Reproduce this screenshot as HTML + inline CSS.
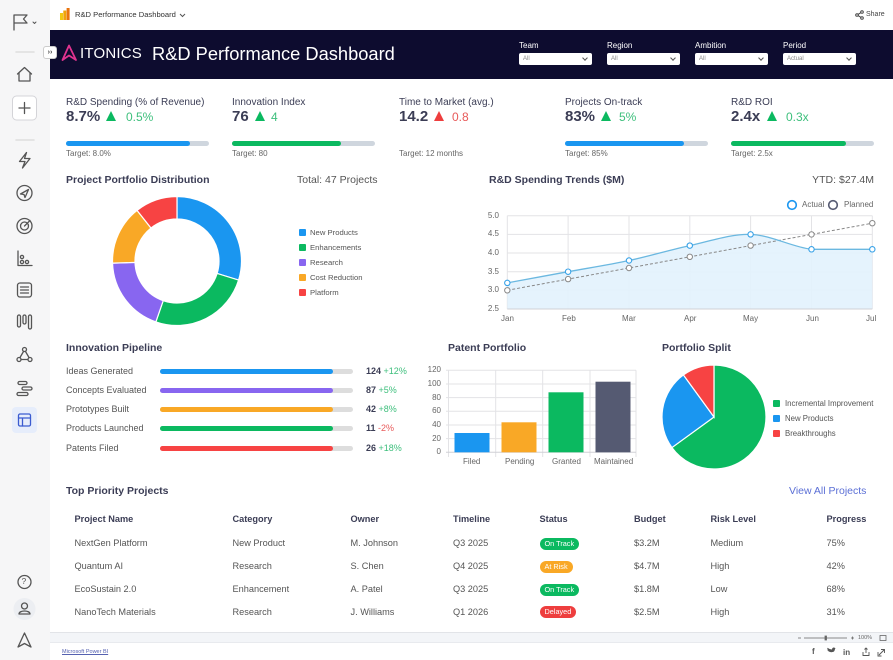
<!DOCTYPE html>
<html><head><meta charset="utf-8">
<style>
*{margin:0;padding:0;box-sizing:border-box}
html,body{width:893px;height:660px;overflow:hidden;background:#fff;font-family:"Liberation Sans",Arial,sans-serif;color:#3b3d55}
.t{position:absolute;white-space:nowrap;line-height:1}
.b{font-weight:bold}
.sel{position:absolute;width:73px;height:12px;background:#fff;border-radius:2px;font-size:6px;color:#888;padding:3px 0 0 4px}
.sel:after{content:"";position:absolute;right:5px;top:3px;width:3px;height:3px;border-right:1px solid #555;border-bottom:1px solid #555;transform:rotate(45deg)}
.kl{font-size:10px;color:#3b3d55}
.kv{font-size:15px;font-weight:bold;color:#3b3d55}
.up{position:absolute;width:0;height:0;border-left:5.5px solid transparent;border-right:5.5px solid transparent;border-bottom:10px solid #0bb960}
.upr{border-bottom-color:#ee3e3e}
.kd{font-size:12px;color:#3dbf7c}
.kdr{color:#e85a5a}
.track{position:absolute;height:4.5px;border-radius:3px;background:#cfd6de;width:143px;top:141px}
.fill{position:absolute;left:0;top:0;height:4.5px;border-radius:3px}
.tg{font-size:8px;color:#666}
.st{font-size:10.5px;font-weight:bold;color:#3b3d55}
.lg{font-size:7.7px;color:#555}
.sq{position:absolute;width:7px;height:7px;border-radius:1px}
.pl{font-size:9px;color:#555}
.pt{position:absolute;left:160px;width:193px;height:5px;border-radius:3px;background:#ddd}
.pf{position:absolute;left:0;top:0;height:5px;width:173px;border-radius:3px}
.pv{font-size:9px}
.th{font-size:9.2px;font-weight:bold;color:#3b3d55}
.td{font-size:9.2px;color:#555}
.badge{position:absolute;height:12px;border-radius:6px;color:#fff;font-size:7.3px;line-height:12px;padding:0 5px;white-space:nowrap}
.ax{font-size:8px;color:#666}
</style></head><body>

<!-- sidebar -->
<div style="position:absolute;left:0;top:0;width:50px;height:660px;background:#f6f6f7"></div>
<svg style="position:absolute;left:0;top:0" width="50" height="660" viewBox="0 0 50 660" fill="none" stroke="#555" stroke-width="1.3" stroke-linejoin="round" stroke-linecap="round">
  <path d="M14 30 V15 H27 L23.5 19 L27 23 H14"/>
  <path d="M33 22 L34.5 23.5 L36 22" stroke-width="1"/>
  <line x1="16" y1="52" x2="34" y2="52" stroke="#ddd" stroke-width="1.5"/>
  <path d="M17.5 74 L24.5 67.5 L31.5 74 M19 73 V81 H30 V73"/>
  <rect x="12.5" y="96" width="24" height="24" rx="4" fill="#fff" stroke="#d4d4d8" stroke-width="1"/>
  <path d="M24.5 102.5 V113.5 M19 108 H30"/>
  <line x1="16" y1="140" x2="34" y2="140" stroke="#ddd" stroke-width="1.5"/>
  <path d="M26.5 152.5 L19.5 161.5 H25 L22.5 168 L30 158.5 H24.5 Z"/>
  <circle cx="24.5" cy="193" r="7.5"/><path d="M20.5 194 L28.5 189.5 L25 197.5 L24 194.5 Z"/>
  <circle cx="24.5" cy="226" r="7.5"/><circle cx="24.5" cy="226" r="4"/><path d="M24.5 226 L30 220.5"/>
  <path d="M18 251 V265.5 H32"/><circle cx="22" cy="262" r="1.6"/><circle cx="27" cy="262" r="1.6"/><circle cx="22" cy="257" r="1.6"/>
  <rect x="17.5" y="283" width="14" height="14" rx="2.5"/><path d="M20.5 287 H28.5 M20.5 290 H28.5 M20.5 293 H28.5"/>
  <rect x="17.5" y="315" width="3" height="12" rx="1.5"/><rect x="23" y="315" width="3" height="9" rx="1.5"/><rect x="28.5" y="315" width="3" height="14" rx="1.5"/>
  <circle cx="24.5" cy="349.5" r="2"/><circle cx="19" cy="359.5" r="2"/><circle cx="30" cy="359.5" r="2"/><path d="M23.5 351.5 L20 357.5 M25.5 351.5 L29 357.5 M21 359.5 H28"/>
  <rect x="18" y="381.5" width="9" height="3" rx="1.5"/><rect x="22" y="387" width="10" height="3" rx="1.5"/><rect x="17" y="392.5" width="11" height="3" rx="1.5"/>
  <rect x="12" y="407" width="25" height="26" rx="4" fill="#e6edfb" stroke="none"/>
  <rect x="18.5" y="414" width="12" height="12" rx="1.5" stroke="#3b5bd0"/><path d="M18.5 418 H30.5 M22.5 418 V426" stroke="#3b5bd0"/>
  <circle cx="24.5" cy="582" r="6.5"/>
  <circle cx="24.5" cy="609" r="11" fill="#eceef2" stroke="none"/>
  <circle cx="24.5" cy="606" r="3"/><path d="M19 614 C19 610 30 610 30 614 Z"/>
  <path d="M24.5 633 L31 647 L24.5 643.5 L18 647 Z"/>
</svg>
<div class="t" style="left:21.5px;top:577px;font-size:8.5px;color:#555">?</div>

<!-- top bar -->
<svg style="position:absolute;left:60px;top:8px" width="10" height="13"><rect x="0" y="5" width="3" height="7" fill="#f2c811"/><rect x="3.3" y="2.5" width="3" height="9.5" fill="#f0a30a"/><rect x="6.6" y="0" width="3" height="12" fill="#e8730c"/></svg>
<div class="t" style="left:75px;top:11px;font-size:7.6px;color:#333">R&amp;D Performance Dashboard</div>
<svg style="position:absolute;left:179px;top:13px" width="7" height="5"><path d="M1 1 L3.5 3.5 L6 1" stroke="#555" fill="none" stroke-width="1"/></svg>
<svg style="position:absolute;left:855px;top:10px" width="9" height="10" fill="none" stroke="#444" stroke-width="1"><circle cx="7" cy="2" r="1.3"/><circle cx="2" cy="5" r="1.3"/><circle cx="7" cy="8" r="1.3"/><path d="M3 4.4 L6 2.6 M3 5.6 L6 7.4"/></svg>
<div class="t" style="left:866px;top:11px;font-size:7px;color:#444">Share</div>

<!-- dark header -->
<div style="position:absolute;left:50px;top:30px;width:843px;height:49px;background:#0d0c2f"></div>
<svg style="position:absolute;left:61px;top:44px" width="17" height="18"><path d="M8 1.5 L15 16 L8 11.5 L1.5 16 Z" fill="none" stroke="#e0338f" stroke-width="1.8" stroke-linejoin="round"/></svg>
<div class="t" style="left:80px;top:46px;font-size:15px;color:#fff;letter-spacing:0.2px">ITONICS</div>
<div class="t" style="left:152px;top:45px;font-size:18.3px;color:#fff">R&amp;D Performance Dashboard</div>
<div style="position:absolute;left:43px;top:46px;width:14px;height:13px;background:#fff;border:1px solid #ccc;border-radius:3px;font-size:7px;line-height:11px;text-align:center;color:#444;font-weight:bold">››</div>

<div class="t" style="left:519px;top:42px;font-size:8px;color:#fff">Team</div>
<div class="sel" style="left:519px;top:53px">All</div>
<div class="t" style="left:607px;top:42px;font-size:8px;color:#fff">Region</div>
<div class="sel" style="left:607px;top:53px">All</div>
<div class="t" style="left:695px;top:42px;font-size:8px;color:#fff">Ambition</div>
<div class="sel" style="left:695px;top:53px">All</div>
<div class="t" style="left:783px;top:42px;font-size:8px;color:#fff">Period</div>
<div class="sel" style="left:783px;top:53px">Actual</div>

<!-- KPIs -->
<div class="t kl" style="left:66px;top:98px">R&amp;D Spending (% of Revenue)</div>
<div class="t kv" style="left:66px;top:109px">8.7%</div>
<div class="up" style="left:106px;top:111px"></div>
<div class="t kd" style="left:126px;top:111px">0.5%</div>
<div class="track" style="left:66px"><div class="fill" style="width:124px;background:#1a96f0"></div></div>
<div class="t tg" style="left:66px;top:150px">Target: 8.0%</div>

<div class="t kl" style="left:232px;top:98px">Innovation Index</div>
<div class="t kv" style="left:232px;top:109px">76</div>
<div class="up" style="left:255px;top:111px"></div>
<div class="t kd" style="left:271px;top:111px">4</div>
<div class="track" style="left:232px"><div class="fill" style="width:109px;background:#0bb960"></div></div>
<div class="t tg" style="left:232px;top:150px">Target: 80</div>

<div class="t kl" style="left:399px;top:98px">Time to Market (avg.)</div>
<div class="t kv" style="left:399px;top:109px">14.2</div>
<div class="up upr" style="left:434px;top:111px"></div>
<div class="t kd kdr" style="left:452px;top:111px">0.8</div>
<div class="t tg" style="left:399px;top:150px">Target: 12 months</div>

<div class="t kl" style="left:565px;top:98px">Projects On-track</div>
<div class="t kv" style="left:565px;top:109px">83%</div>
<div class="up" style="left:601px;top:111px"></div>
<div class="t kd" style="left:619px;top:111px">5%</div>
<div class="track" style="left:565px"><div class="fill" style="width:119px;background:#1a96f0"></div></div>
<div class="t tg" style="left:565px;top:150px">Target: 85%</div>

<div class="t kl" style="left:731px;top:98px">R&amp;D ROI</div>
<div class="t kv" style="left:731px;top:109px">2.4x</div>
<div class="up" style="left:767px;top:111px"></div>
<div class="t kd" style="left:786px;top:111px">0.3x</div>
<div class="track" style="left:731px"><div class="fill" style="width:115px;background:#0bb960"></div></div>
<div class="t tg" style="left:731px;top:150px">Target: 2.5x</div>

<!-- Portfolio distribution -->
<div class="t st" style="left:66px;top:175px">Project Portfolio Distribution</div>
<div class="t" style="left:297px;top:175px;font-size:10.5px;color:#555">Total: 47 Projects</div>
<svg style="position:absolute;left:0;top:0" width="893" height="660" stroke="#fff" stroke-width="1.2">
  <path d="M177 196.5 A64.5 64.5 0 0 1 238.6 280.1 L217.11 273.44 A42 42 0 0 0 177 219 Z" fill="#1a96f0"/>
  <path d="M238.6 280.1 A64.5 64.5 0 0 1 155.84 321.93 L163.22 300.68 A42 42 0 0 0 217.11 273.44 Z" fill="#0bb960"/>
  <path d="M155.84 321.93 A64.5 64.5 0 0 1 112.54 263.15 L135.02 262.4 A42 42 0 0 0 163.22 300.68 Z" fill="#8866f0"/>
  <path d="M112.54 263.15 A64.5 64.5 0 0 1 137.03 210.38 L150.97 228.04 A42 42 0 0 0 135.02 262.4 Z" fill="#f9a826"/>
  <path d="M137.03 210.38 A64.5 64.5 0 0 1 177 196.5 L177 219 A42 42 0 0 0 150.97 228.04 Z" fill="#f74343"/>
</svg>
<div class="sq" style="left:299px;top:229px;background:#1a96f0"></div><div class="t lg" style="left:310px;top:229px">New Products</div>
<div class="sq" style="left:299px;top:244px;background:#0bb960"></div><div class="t lg" style="left:310px;top:244px">Enhancements</div>
<div class="sq" style="left:299px;top:259px;background:#8866f0"></div><div class="t lg" style="left:310px;top:259px">Research</div>
<div class="sq" style="left:299px;top:274px;background:#f9a826"></div><div class="t lg" style="left:310px;top:274px">Cost Reduction</div>
<div class="sq" style="left:299px;top:289px;background:#f74343"></div><div class="t lg" style="left:310px;top:289px">Platform</div>

<!-- Spending trends -->
<div class="t st" style="left:489px;top:175px">R&amp;D Spending Trends ($M)</div>
<div class="t" style="right:19px;top:175px;font-size:10.5px;color:#555">YTD: $27.4M</div>
<svg style="position:absolute;left:0;top:0" width="893" height="660">
  <g stroke="#e3e3e6" stroke-width="1">
    <line x1="507.3" y1="215.7" x2="872.3" y2="215.7"/>
    <line x1="507.3" y1="234.4" x2="872.3" y2="234.4"/>
    <line x1="507.3" y1="253" x2="872.3" y2="253"/>
    <line x1="507.3" y1="271.7" x2="872.3" y2="271.7"/>
    <line x1="507.3" y1="290.3" x2="872.3" y2="290.3"/>
    <line x1="507.3" y1="215.7" x2="507.3" y2="309"/>
    <line x1="568.1" y1="215.7" x2="568.1" y2="309"/>
    <line x1="629" y1="215.7" x2="629" y2="309"/>
    <line x1="689.8" y1="215.7" x2="689.8" y2="309"/>
    <line x1="750.6" y1="215.7" x2="750.6" y2="309"/>
    <line x1="811.5" y1="215.7" x2="811.5" y2="309"/>
    <line x1="872.3" y1="215.7" x2="872.3" y2="309"/>
  </g>
  <path d="M507.3 282.9 C517.4 281 547.8 275.4 568.1 271.7 C588.4 268 608.7 264.9 629 260.5 C649.3 256.2 669.5 250 689.8 245.6 C710.1 241.3 730.3 233.8 750.6 234.4 C770.9 235 791.2 246.8 811.5 249.3 C831.8 249.3 852 249.3 872.3 249.3 L872.3 309 L507.3 309 Z" fill="#e2f2fd" opacity="0.9"/>
  <line x1="507.3" y1="309" x2="872.3" y2="309" stroke="#d0d0d6" stroke-width="1"/>
  <polyline points="507.3,290.3 568.1,279.1 629,268 689.8,256.8 750.6,245.6 811.5,234.4 872.3,223.2" fill="none" stroke="#888" stroke-width="1" stroke-dasharray="3,2"/>
  <path d="M507.3 282.9 C517.4 281 547.8 275.4 568.1 271.7 C588.4 268 608.7 264.9 629 260.5 C649.3 256.2 669.5 250 689.8 245.6 C710.1 241.3 730.3 233.8 750.6 234.4 C770.9 235 791.2 246.8 811.5 249.3 C831.8 249.3 852 249.3 872.3 249.3" fill="none" stroke="#6bb8e0" stroke-width="1.3"/>
  <g fill="#fff" stroke="#888" stroke-width="1">
    <circle cx="507.3" cy="290.3" r="2.7"/><circle cx="568.1" cy="279.1" r="2.7"/><circle cx="629" cy="268" r="2.7"/><circle cx="689.8" cy="256.8" r="2.7"/><circle cx="750.6" cy="245.6" r="2.7"/><circle cx="811.5" cy="234.4" r="2.7"/><circle cx="872.3" cy="223.2" r="2.7"/>
  </g>
  <g fill="#fff" stroke="#3aa3e8" stroke-width="1.1">
    <circle cx="507.3" cy="282.9" r="2.7"/><circle cx="568.1" cy="271.7" r="2.7"/><circle cx="629" cy="260.5" r="2.7"/><circle cx="689.8" cy="245.6" r="2.7"/><circle cx="750.6" cy="234.4" r="2.7"/><circle cx="811.5" cy="249.3" r="2.7"/><circle cx="872.3" cy="249.3" r="2.7"/>
  </g>
  <circle cx="792" cy="205" r="4.3" fill="#fff" stroke="#1a96f0" stroke-width="1.6"/>
  <circle cx="833" cy="205" r="4.3" fill="#fff" stroke="#555a72" stroke-width="1.6"/>
</svg>
<div class="t" style="left:802px;top:201px;font-size:8px;color:#666">Actual</div>
<div class="t" style="left:844px;top:201px;font-size:8px;color:#666">Planned</div>
<div class="t ax" style="right:394px;top:211.7px">5.0</div>
<div class="t ax" style="right:394px;top:230.4px">4.5</div>
<div class="t ax" style="right:394px;top:249px">4.0</div>
<div class="t ax" style="right:394px;top:267.7px">3.5</div>
<div class="t ax" style="right:394px;top:286.3px">3.0</div>
<div class="t ax" style="right:394px;top:305px">2.5</div>
<div class="t ax" style="left:501px;top:315px">Jan</div>
<div class="t ax" style="left:562px;top:315px">Feb</div>
<div class="t ax" style="left:622px;top:315px">Mar</div>
<div class="t ax" style="left:684px;top:315px">Apr</div>
<div class="t ax" style="left:743px;top:315px">May</div>
<div class="t ax" style="left:806px;top:315px">Jun</div>
<div class="t ax" style="left:866px;top:315px">Jul</div>

<!-- Innovation pipeline -->
<div class="t st" style="left:66px;top:343px">Innovation Pipeline</div>
<div class="t pl" style="left:66px;top:366.5px">Ideas Generated</div>
<div class="pt" style="top:368.5px"><div class="pf" style="background:#1a96f0"></div></div>
<div class="t pv" style="left:366px;top:366.5px"><b>124</b> <span style="color:#3dbf7c">+12%</span></div>
<div class="t pl" style="left:66px;top:385.5px">Concepts Evaluated</div>
<div class="pt" style="top:387.5px"><div class="pf" style="background:#8866f0"></div></div>
<div class="t pv" style="left:366px;top:385.5px"><b>87</b> <span style="color:#3dbf7c">+5%</span></div>
<div class="t pl" style="left:66px;top:404.5px">Prototypes Built</div>
<div class="pt" style="top:406.5px"><div class="pf" style="background:#f9a826"></div></div>
<div class="t pv" style="left:366px;top:404.5px"><b>42</b> <span style="color:#3dbf7c">+8%</span></div>
<div class="t pl" style="left:66px;top:424px">Products Launched</div>
<div class="pt" style="top:426px"><div class="pf" style="background:#0bb960"></div></div>
<div class="t pv" style="left:366px;top:424px"><b>11</b> <span style="color:#e85a5a">-2%</span></div>
<div class="t pl" style="left:66px;top:443.5px">Patents Filed</div>
<div class="pt" style="top:445.5px"><div class="pf" style="background:#f74343"></div></div>
<div class="t pv" style="left:366px;top:443.5px"><b>26</b> <span style="color:#3dbf7c">+18%</span></div>

<!-- Patent portfolio -->
<div class="t st" style="left:448px;top:343px">Patent Portfolio</div>
<svg style="position:absolute;left:0;top:0" width="893" height="660">
  <g stroke="#e3e3e6" stroke-width="1">
    <line x1="446" y1="370.3" x2="636" y2="370.3"/>
    <line x1="446" y1="384" x2="636" y2="384"/>
    <line x1="446" y1="397.6" x2="636" y2="397.6"/>
    <line x1="446" y1="411.3" x2="636" y2="411.3"/>
    <line x1="446" y1="425" x2="636" y2="425"/>
    <line x1="446" y1="438.6" x2="636" y2="438.6"/>
    <line x1="448.5" y1="370.3" x2="448.5" y2="457"/>
    <line x1="495.7" y1="370.3" x2="495.7" y2="457"/>
    <line x1="542.7" y1="370.3" x2="542.7" y2="457"/>
    <line x1="590" y1="370.3" x2="590" y2="457"/>
    <line x1="636" y1="370.3" x2="636" y2="457"/>
  </g>
  <line x1="446" y1="452.3" x2="636" y2="452.3" stroke="#d0d0d6"/>
  <rect x="454.5" y="433" width="35" height="19.3" fill="#1a96f0"/>
  <rect x="501.5" y="422.3" width="35" height="30" fill="#f9a826"/>
  <rect x="548.5" y="392.3" width="35" height="60" fill="#0bb960"/>
  <rect x="595.5" y="381.7" width="35" height="70.6" fill="#555a72"/>
</svg>
<div class="t ax" style="right:452px;top:366.3px">120</div>
<div class="t ax" style="right:452px;top:380px">100</div>
<div class="t ax" style="right:452px;top:393.6px">80</div>
<div class="t ax" style="right:452px;top:407.3px">60</div>
<div class="t ax" style="right:452px;top:421px">40</div>
<div class="t ax" style="right:452px;top:434.6px">20</div>
<div class="t ax" style="right:452px;top:448.3px">0</div>
<div class="t ax" style="left:463px;top:458px">Filed</div>
<div class="t ax" style="left:505px;top:458px">Pending</div>
<div class="t ax" style="left:552px;top:458px">Granted</div>
<div class="t ax" style="left:594px;top:458px">Maintained</div>

<!-- Portfolio split -->
<div class="t st" style="left:662px;top:343px">Portfolio Split</div>
<svg style="position:absolute;left:0;top:0" width="893" height="660" stroke="#fff" stroke-width="1.2">
  <path d="M714 417 L714 365 A52 52 0 1 1 671.93 447.57 Z" fill="#0bb960"/>
  <path d="M714 417 L671.93 447.57 A52 52 0 0 1 683.43 374.93 Z" fill="#1a96f0"/>
  <path d="M714 417 L683.43 374.93 A52 52 0 0 1 714 365 Z" fill="#f74343"/>
</svg>
<div class="sq" style="left:773px;top:400px;background:#0bb960"></div><div class="t lg" style="left:785px;top:400px;font-size:7.8px">Incremental Improvement</div>
<div class="sq" style="left:773px;top:415px;background:#1a96f0"></div><div class="t lg" style="left:785px;top:415px;font-size:7.8px">New Products</div>
<div class="sq" style="left:773px;top:430px;background:#f74343"></div><div class="t lg" style="left:785px;top:430px;font-size:7.8px">Breakthroughs</div>

<!-- Table -->
<div class="t st" style="left:66px;top:486px">Top Priority Projects</div>
<div class="t" style="left:789px;top:486px;font-size:10.5px;color:#5b6fd6">View All Projects</div>

<div class="t th" style="left:74.5px;top:514.5px">Project Name</div>
<div class="t th" style="left:232.5px;top:514.5px">Category</div>
<div class="t th" style="left:350.5px;top:514.5px">Owner</div>
<div class="t th" style="left:453px;top:514.5px">Timeline</div>
<div class="t th" style="left:539.5px;top:514.5px">Status</div>
<div class="t th" style="left:634px;top:514.5px">Budget</div>
<div class="t th" style="left:710.5px;top:514.5px">Risk Level</div>
<div class="t th" style="left:826.5px;top:514.5px">Progress</div>

<div class="t td" style="left:74.5px;top:539px">NextGen Platform</div>
<div class="t td" style="left:232.5px;top:539px">New Product</div>
<div class="t td" style="left:350.5px;top:539px">M. Johnson</div>
<div class="t td" style="left:453px;top:539px">Q3 2025</div>
<div class="badge" style="left:539.5px;top:537.5px;background:#0bb960">On Track</div>
<div class="t td" style="left:634px;top:539px">$3.2M</div>
<div class="t td" style="left:710.5px;top:539px">Medium</div>
<div class="t td" style="left:826.5px;top:539px">75%</div>

<div class="t td" style="left:74.5px;top:562px">Quantum AI</div>
<div class="t td" style="left:232.5px;top:562px">Research</div>
<div class="t td" style="left:350.5px;top:562px">S. Chen</div>
<div class="t td" style="left:453px;top:562px">Q4 2025</div>
<div class="badge" style="left:539.5px;top:560.5px;background:#f9a826">At Risk</div>
<div class="t td" style="left:634px;top:562px">$4.7M</div>
<div class="t td" style="left:710.5px;top:562px">High</div>
<div class="t td" style="left:826.5px;top:562px">42%</div>

<div class="t td" style="left:74.5px;top:585px">EcoSustain 2.0</div>
<div class="t td" style="left:232.5px;top:585px">Enhancement</div>
<div class="t td" style="left:350.5px;top:585px">A. Patel</div>
<div class="t td" style="left:453px;top:585px">Q3 2025</div>
<div class="badge" style="left:539.5px;top:583.5px;background:#0bb960">On Track</div>
<div class="t td" style="left:634px;top:585px">$1.8M</div>
<div class="t td" style="left:710.5px;top:585px">Low</div>
<div class="t td" style="left:826.5px;top:585px">68%</div>

<div class="t td" style="left:74.5px;top:608px">NanoTech Materials</div>
<div class="t td" style="left:232.5px;top:608px">Research</div>
<div class="t td" style="left:350.5px;top:608px">J. Williams</div>
<div class="t td" style="left:453px;top:608px">Q1 2026</div>
<div class="badge" style="left:539.5px;top:606px;background:#ee3e3e">Delayed</div>
<div class="t td" style="left:634px;top:608px">$2.5M</div>
<div class="t td" style="left:710.5px;top:608px">High</div>
<div class="t td" style="left:826.5px;top:608px">31%</div>

<!-- bottom band -->
<div style="position:absolute;left:50px;top:632px;width:843px;height:11px;background:#f3f5f8;border-top:1.5px solid #e2e4e8;border-bottom:1px solid #e8eaee"></div>
<svg style="position:absolute;left:795px;top:633px" width="98" height="10" stroke="#666" stroke-width="0.8" fill="none">
  <path d="M3 5 H6 M9 5 H52 M56 5 H59 M57.5 3.5 V6.5"/><rect x="30" y="3" width="1.5" height="4" fill="#666"/>
  <rect x="85" y="2.5" width="6" height="5"/>
</svg>
<div class="t" style="left:858px;top:635.5px;font-size:5.5px;color:#666">100%</div>
<div class="t" style="left:62px;top:649.5px;font-size:5.5px;color:#5561b0;text-decoration:underline">Microsoft Power BI</div>
<div class="t" style="left:812px;top:648px;font-size:8px;color:#555;font-weight:bold">f</div>
<svg style="position:absolute;left:826px;top:647px" width="66" height="10" fill="#555" stroke="#555">
  <path d="M1 3 C3 5 5 6 8 4.5 C9 3 9 2 9 1.5 L10 1 L9 1 C8 0 6 0.5 6 2.5 C4 2.5 2.5 1.5 1.5 0.8 C1 2 1.5 3 2.5 3.5 Z" stroke="none"/>
  <text x="17" y="8" font-size="8" font-family="Liberation Sans" font-weight="bold" stroke="none">in</text>
  <path d="M37 5 V8.5 H43 V5 M40 1 V6 M38.5 2.5 L40 1 L41.5 2.5" fill="none" stroke-width="0.9"/>
  <path d="M53 8 L58 3 M55 2.5 H58.5 V6 M52 5 V9 H55.5" fill="none" stroke-width="0.9"/>
</svg>
</body></html>
